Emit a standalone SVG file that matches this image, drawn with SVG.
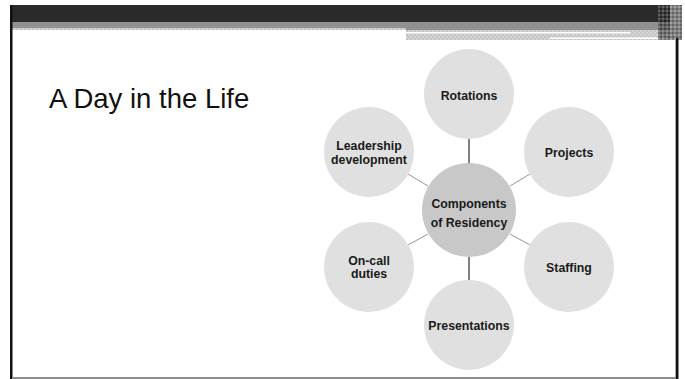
<svg xmlns="http://www.w3.org/2000/svg" width="685" height="379" viewBox="0 0 685 379">
  <style>
    .sat { fill: #e0e0e0; }
    .hub { fill: #c8c8c8; }
    .lbl { font-family: "Liberation Sans", Arial, sans-serif; font-weight: bold; font-size: 12.3px; fill: #1a1a1a; text-anchor: middle; }
    .conn { stroke: #000; stroke-width: 1; fill: none; }
    .diag { stroke: #7a7a7a; stroke-width: 0.8; fill: none; }
    .title { font-family: "Liberation Sans", Arial, sans-serif; font-size: 27.5px; fill: #111; }
  </style>
  <defs>
    <pattern id="chkLight" width="4" height="4" patternUnits="userSpaceOnUse">
      <rect width="4" height="4" fill="#d4d4d4"/>
      <rect width="2" height="2" fill="#c4c4c4"/>
      <rect x="2" y="2" width="2" height="2" fill="#c4c4c4"/>
    </pattern>
    <pattern id="chkDark" width="4" height="4" patternUnits="userSpaceOnUse">
      <rect width="4" height="4" fill="#4a4a4a"/>
      <rect width="2" height="2" fill="#222"/>
      <rect x="2" y="2" width="2" height="2" fill="#777"/>
    </pattern>
  </defs>
  <rect width="685" height="379" fill="#fff"/>

  <!-- header -->
  <g id="header">
    <rect x="10" y="5" width="660" height="17" fill="#2a2a2a"/>
    <rect x="10" y="22" width="660" height="6" fill="#919191"/>
    <rect x="406" y="28" width="264" height="2" fill="#919191"/>
    <rect x="12" y="28" width="394" height="2" fill="url(#chkLight)"/>
    <rect x="406" y="30" width="264" height="10" fill="url(#chkLight)"/>
    <rect x="406" y="32" width="224" height="1.5" fill="#fff"/>
    <rect x="550" y="37.5" width="117" height="1.5" fill="#fff"/>
    <rect x="658" y="5" width="24" height="35" fill="url(#chkDark)" opacity="0.7"/>
  </g>

  <!-- frame -->
  <g id="frame">
    <rect x="10" y="5" width="2.5" height="374" fill="#111"/>
    <rect x="675" y="38" width="1" height="341" fill="#aaa"/>
    <rect x="676" y="38" width="2.5" height="341" fill="#111"/>
    <rect x="12" y="377" width="664" height="2" fill="#8c8c8c"/>
  </g>

  <text id="title" class="title" x="49" y="108">A Day in the Life</text>

  <g id="connectors">
    <line class="conn" x1="469" y1="139" x2="469" y2="163"/>
    <line class="conn" x1="469" y1="257" x2="469" y2="280"/>
    <line class="diag" x1="530" y1="174" x2="510" y2="186"/>
    <line class="diag" x1="530" y1="245" x2="510" y2="234"/>
    <line class="diag" x1="408" y1="174" x2="428" y2="186"/>
    <line class="diag" x1="408" y1="245" x2="428" y2="234"/>
  </g>

  <g id="node-hub">
    <circle class="hub" cx="469" cy="210" r="47"/>
    <text class="lbl" x="469" y="207.5">Components</text>
    <text class="lbl" x="469" y="226.5">of Residency</text>
  </g>
  <g id="node-rotations">
    <circle class="sat" cx="469" cy="94" r="45"/>
    <text class="lbl" x="469" y="99.5">Rotations</text>
  </g>
  <g id="node-projects">
    <circle class="sat" cx="569" cy="152" r="45"/>
    <text class="lbl" x="569" y="156.5">Projects</text>
  </g>
  <g id="node-staffing">
    <circle class="sat" cx="569" cy="267" r="45"/>
    <text class="lbl" x="569" y="271.5">Staffing</text>
  </g>
  <g id="node-presentations">
    <circle class="sat" cx="469" cy="325" r="45"/>
    <text class="lbl" x="469" y="329.5">Presentations</text>
  </g>
  <g id="node-oncall">
    <circle class="sat" cx="369" cy="267" r="45"/>
    <text class="lbl" x="369" y="264.5">On-call</text>
    <text class="lbl" x="369" y="278">duties</text>
  </g>
  <g id="node-leadership">
    <circle class="sat" cx="369" cy="152" r="45"/>
    <text class="lbl" x="369" y="149.5">Leadership</text>
    <text class="lbl" x="369" y="163.5">development</text>
  </g>
</svg>
